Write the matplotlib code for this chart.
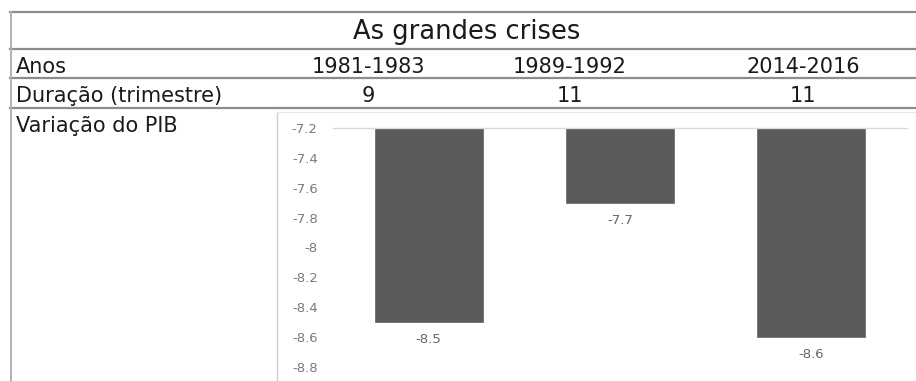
import matplotlib.pyplot as plt

# table contents
titulo = 'As grandes crises'
anos = ['1981-1983', '1989-1992', '2014-2016']
duracao = [9, 11, 11]
variacao_pib = [-8.5, -7.7, -8.6]
yticks = [-7.2, -7.4, -7.6, -7.8, -8.0, -8.2, -8.4, -8.6, -8.8]
base = -7.2

W, H = 916, 381
plt.rcParams['font.family'] = ['DejaVu Sans']
fig = plt.figure(figsize=(W / 100, H / 100), dpi=100)

# overlay in pixel coordinates for the table grid and text
tab = fig.add_axes([0, 0, 1, 1])
tab.set_xlim(0, W)
tab.set_ylim(H, 0)
tab.axis('off')

line_c = '#8c8c8c'
for y in [12, 49, 78, 108]:
    tab.plot([10, W], [y, y], c=line_c, lw=1.6)
tab.plot([10.5, 10.5], [12, H], c='#b0b0b0', lw=1.4)
# chart frame
tab.plot([277, 277], [112, H], c='#d0d0d0', lw=1.0)
tab.plot([277, W], [112, 112], c='#e6e6e6', lw=0.8)

tc = '#1a1a1a'
fs = 15
cols = [368, 570, 803]
tab.text(467, 32, titulo, ha='center', va='center', size=18.5, color=tc)
tab.text(16, 73, 'Anos', ha='left', va='baseline', size=fs, color=tc)
tab.text(16, 102, 'Duração (trimestre)', ha='left', va='baseline', size=fs, color=tc)
tab.text(16, 132, 'Variação do PIB', ha='left', va='baseline', size=fs, color=tc)
for x, a, d in zip(cols, anos, duracao):
    tab.text(x, 73, a, ha='center', va='baseline', size=fs, color=tc)
    tab.text(x, 102, str(d), ha='center', va='baseline', size=fs, color=tc)

# bar chart: bars hang from the -7.2 axis line
ax = fig.add_axes([333 / W, 1 - 367 / H, (907 - 333) / W, (367 - 128) / H])
ax.patch.set_alpha(0)
x = range(len(variacao_pib))
heights = [v - base for v in variacao_pib]
ax.bar(x, heights, bottom=base, width=0.565, color='#5b5b5b',
       edgecolor='#6e6e6e', lw=0.6)
ax.set_xlim(-0.5, len(variacao_pib) - 0.5)
ax.set_ylim(yticks[-1], yticks[0])
ax.set_yticks(yticks)
ax.set_yticklabels(['%g' % t for t in yticks])
ax.set_xticks([])
ax.tick_params(axis='y', length=0, pad=11, labelsize=9.5, labelcolor='#7a7a7a')
for s in ['left', 'right', 'bottom']:
    ax.spines[s].set_visible(False)
ax.spines['top'].set_color('#d9d9d9')
ax.spines['top'].set_linewidth(1.0)

for i, v in enumerate(variacao_pib):
    ax.annotate('%g' % v, (i, v), xytext=(0, -12.5), textcoords='offset points',
                ha='center', va='center', size=9.5, color='#666666')

fig.savefig('out.png', dpi=100)
